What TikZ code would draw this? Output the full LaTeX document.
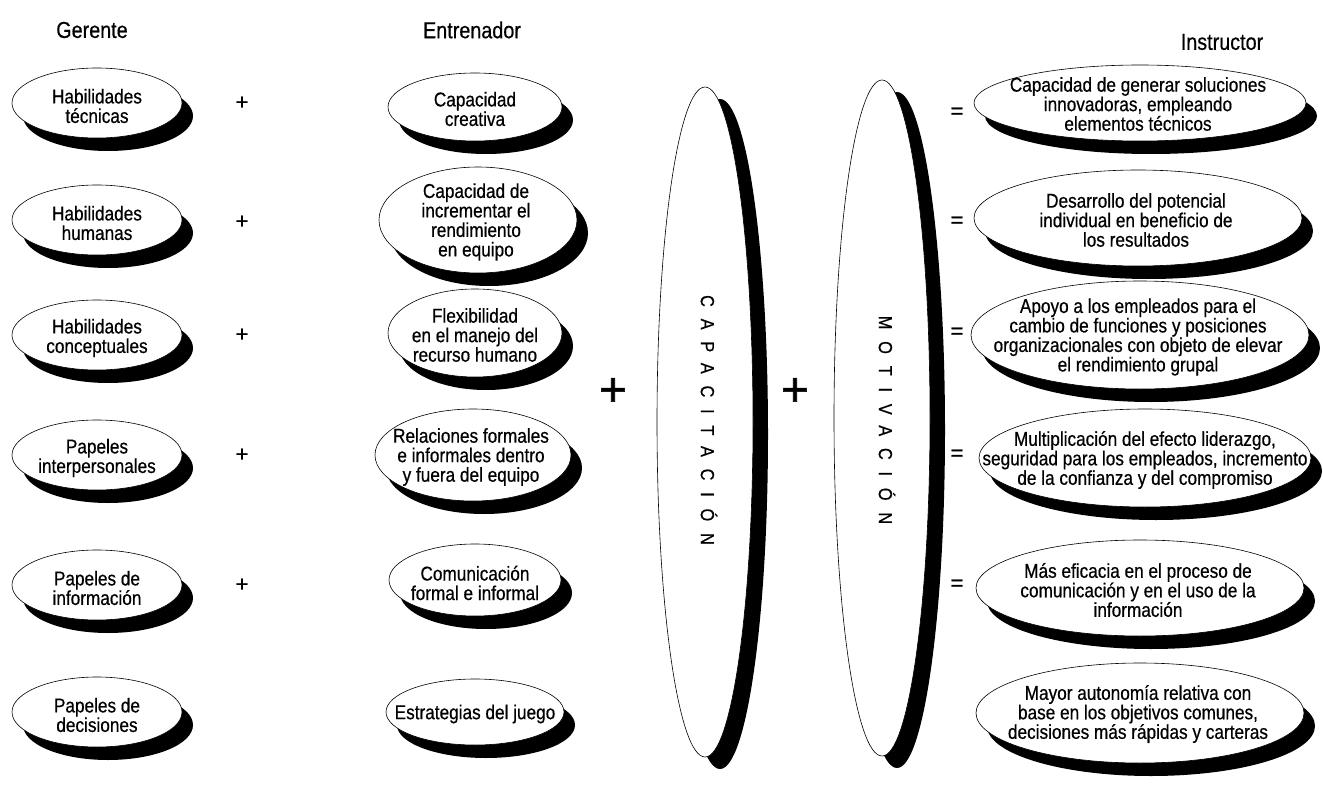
\documentclass[tikz,border=0pt]{standalone}
\usepackage{fontspec}
\setmainfont[FakeStretch=0.86,FakeBold=0.5]{Liberation Sans}
\newfontfamily\opfont[FakeBold=1.2]{Liberation Sans}
\usetikzlibrary{shapes.geometric,shadows}
\begin{document}
\begin{tikzpicture}[x=1pt,y=-1pt,
  oval/.style={ellipse, draw=black, line width=0.6pt, fill=white, inner sep=0pt,
     drop shadow={shadow xshift=11pt, shadow yshift=-13pt, opacity=1, fill=black}},
  bigoval/.style={ellipse, draw=black, line width=0.6pt, fill=white, inner sep=0pt,
     drop shadow={shadow xshift=15pt, shadow yshift=-12pt, opacity=1, fill=black}},
  txt/.style={inner sep=0pt, align=center, font=\fontsize{20}{19.5}\selectfont},
  title/.style={font=\fontsize{23}{26}\selectfont},
  op/.style={font=\opfont\fontsize{22}{22}\selectfont, inner sep=0pt},
  bigop/.style={font=\opfont\fontsize{48}{48}\selectfont, inner sep=0pt},
  vtext/.style={rotate=-90, inner sep=0pt, font=\fontsize{19}{19}\selectfont\addfontfeature{LetterSpace=62}}
]
\useasboundingbox (0,0) rectangle (1323,797);

% titles
\node[title] (tg) at (92,30) {Gerente};
\node[title] (te) at (472,30) {Entrenador};
\node[title] (ti) at (1222,42) {Instructor};

% Gerente column
\node[oval, minimum width=170pt, minimum height=70pt] (g1) at (97,103) {};
\node[txt] (g1t) at (97,106) {Habilidades\\técnicas};
\node[oval, minimum width=170pt, minimum height=70pt] (g2) at (97,220) {};
\node[txt] (g2t) at (97,223) {Habilidades\\humanas};
\node[oval, minimum width=170pt, minimum height=70pt] (g3) at (97,335) {};
\node[txt] (g3t) at (97,338) {Habilidades\\conceptuales};
\node[oval, minimum width=170pt, minimum height=70pt] (g4) at (97,455) {};
\node[txt] (g4t) at (97,458) {Papeles\\interpersonales};
\node[oval, minimum width=170pt, minimum height=70pt] (g5) at (97,585) {};
\node[txt] (g5t) at (97,588) {Papeles de\\información};
\node[oval, minimum width=170pt, minimum height=70pt] (g6) at (97,712) {};
\node[txt] (g6t) at (97,715) {Papeles de\\decisiones};

% plus signs
\node[op] (p1) at (242,103) {+};
\node[op] (p2) at (242,222) {+};
\node[op] (p3) at (242,335) {+};
\node[op] (p4) at (242,455) {+};
\node[op] (p5) at (242,585) {+};

% Entrenador column
\node[oval, minimum width=174pt, minimum height=68pt] (e1) at (475,107) {};
\node[txt] (e1t) at (475,109) {Capacidad\\creativa};
\node[oval, minimum width=198pt, minimum height=106pt] (e2) at (478,220) {};
\node[txt] (e2t) at (476,222) {Capacidad de\\incrementar el\\rendimiento\\en equipo};
\node[oval, minimum width=174pt, minimum height=88pt] (e3) at (475,333) {};
\node[txt] (e3t) at (475,335) {Flexibilidad\\en el manejo del\\recurso humano};
\node[oval, minimum width=196pt, minimum height=92pt] (e4) at (473,455) {};
\node[txt] (e4t) at (471,457) {Relaciones formales\\e informales dentro\\y fuera del equipo};
\node[oval, minimum width=172pt, minimum height=72pt] (e5) at (475,580) {};
\node[txt] (e5t) at (475,583) {Comunicación\\formal e informal};
\node[oval, minimum width=178pt, minimum height=66pt] (e6) at (475,712) {};
\node[txt] (e6t) at (475,714) {Estrategias del juego};

% big plus signs and tall ellipses
\node[bigop] (bp1) at (613,392) {+};
\node[bigoval, minimum width=96pt, minimum height=670pt] (cap) at (705,422) {};
\node[vtext] (capt) at (709,420) {CAPACITACIÓN};
\node[bigop] (bp2) at (795,392) {+};
\node[bigoval, minimum width=96pt, minimum height=676pt] (mot) at (882,418) {};
\node[vtext] (mott) at (887,420) {MOTIVACIÓN};

% equal signs
\node[op] (q1) at (957,113) {=};
\node[op] (q2) at (957,222) {=};
\node[op] (q3) at (957,333) {=};
\node[op] (q4) at (957,455) {=};
\node[op] (q5) at (957,585) {=};

% Instructor column
\node[oval, minimum width=332pt, minimum height=76pt] (i1) at (1140,103) {};
\node[txt] (i1t) at (1138,104) {Capacidad de generar soluciones\\innovadoras, empleando\\elementos técnicos};
\node[oval, minimum width=328pt, minimum height=96pt] (i2) at (1138,218) {};
\node[txt] (i2t) at (1136,220) {Desarrollo del potencial\\individual en beneficio de\\los resultados};
\node[oval, minimum width=338pt, minimum height=108pt] (i3) at (1140,335) {};
\node[txt] (i3t) at (1138,337) {Apoyo a los empleados para el\\cambio de funciones y posiciones\\organizacionales con objeto de elevar\\el rendimiento grupal};
\node[oval, minimum width=332pt, minimum height=98pt] (i4) at (1145,458) {};
\node[txt] (i4t) at (1145,460) {Multiplicación del efecto liderazgo,\\seguridad para los empleados, incremento\\de la confianza y del compromiso};
\node[oval, minimum width=328pt, minimum height=96pt] (i5) at (1140,588) {};
\node[txt] (i5t) at (1138,590) {Más eficacia en el proceso de\\comunicación y en el uso de la\\información};
\node[oval, minimum width=328pt, minimum height=100pt] (i6) at (1140,713) {};
\node[txt] (i6t) at (1138,714) {Mayor autonomía relativa con\\base en los objetivos comunes,\\decisiones más rápidas y carteras};
\end{tikzpicture}
\end{document}
